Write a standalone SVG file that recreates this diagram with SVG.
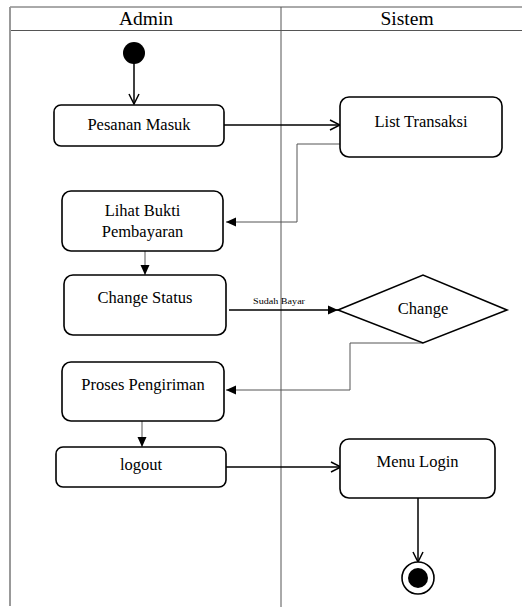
<svg xmlns="http://www.w3.org/2000/svg" width="522" height="607" viewBox="0 0 522 607">
<defs>
<style>
.lane{stroke:#555;stroke-width:1;fill:none}
.node{fill:#fff;stroke:#000;stroke-width:1.6}
.t{font-family:"Liberation Serif","Times New Roman",serif;font-size:16.5px;fill:#000;text-anchor:middle}
.h{font-family:"Liberation Serif","Times New Roman",serif;font-size:19.5px;fill:#000;text-anchor:middle}
.lbl{font-family:"Liberation Serif","Times New Roman",serif;font-size:9px;fill:#000}
.c{fill:none;stroke:#000;stroke-width:1.5}
.cg{fill:none;stroke:#555;stroke-width:1}
</style>
<marker id="open" viewBox="0 0 12 12" refX="11" refY="6" markerWidth="12" markerHeight="12" markerUnits="userSpaceOnUse" orient="auto">
<path d="M1,1 L11,6 L1,11" fill="none" stroke="#000" stroke-width="1.5"/>
</marker>
<marker id="fill" viewBox="0 0 10 10" refX="10" refY="5" markerWidth="10" markerHeight="10" markerUnits="userSpaceOnUse" orient="auto">
<path d="M0,0.5 L10,5 L0,9.5 Z" fill="#000"/>
</marker>
</defs>
<rect width="522" height="607" fill="#fff"/>
<g id="swimlanes">
<line class="lane" x1="10" y1="7" x2="522" y2="7"/>
<line class="lane" x1="10" y1="30.5" x2="522" y2="30.5" stroke-width="1.5"/>
<line x1="10" y1="7" x2="10" y2="606" stroke="#999" stroke-width="2"/>
<line class="lane" x1="281" y1="7" x2="281" y2="607"/>
<text class="h" x="146" y="25">Admin</text>
<text class="h" x="407" y="25">Sistem</text>
</g>
<g id="connectors">
<line class="c" x1="134" y1="63" x2="134" y2="104" marker-end="url(#open)"/>
<line class="c" x1="224" y1="125" x2="340" y2="125" marker-end="url(#open)"/>
<polyline class="cg" points="340,144 297,144 297,222 226,222" marker-end="url(#fill)"/>
<line class="cg" x1="145" y1="251" x2="145" y2="275" marker-end="url(#fill)"/>
<line class="c" x1="229" y1="310" x2="338" y2="310" stroke-width="1" marker-end="url(#fill)"/>
<text class="lbl" x="253" y="304" textLength="52" lengthAdjust="spacingAndGlyphs">Sudah Bayar</text>
<polyline class="cg" points="423,343 350,343 350,390 226,390" marker-end="url(#fill)"/>
<line class="cg" x1="142" y1="421" x2="142" y2="447" marker-end="url(#fill)"/>
<line class="c" x1="226" y1="467" x2="341" y2="467" marker-end="url(#open)"/>
<line class="c" x1="418" y1="498" x2="418" y2="562" marker-end="url(#open)"/>
</g>
<g id="start"><circle cx="134" cy="53" r="11" fill="#000"/></g>
<g id="pesanan-masuk"><rect class="node" x="54" y="105" width="170" height="41" rx="7"/><text class="t" x="139" y="130">Pesanan Masuk</text></g>
<g id="list-transaksi"><rect class="node" x="340" y="97" width="162" height="60" rx="9"/><text class="t" x="421" y="127">List Transaksi</text></g>
<g id="lihat-bukti"><rect class="node" x="62" y="191" width="161" height="60" rx="9"/><text class="t" x="142.5" y="216">Lihat Bukti</text><text class="t" x="142.5" y="237">Pembayaran</text></g>
<g id="change-status"><rect class="node" x="64" y="275" width="162" height="60" rx="9"/><text class="t" x="145" y="303">Change Status</text></g>
<g id="change"><polygon class="node" points="338,310 423,275 507,310 423,343"/><text class="t" x="423" y="314">Change</text></g>
<g id="proses-pengiriman"><rect class="node" x="62" y="362" width="162" height="59" rx="9"/><text class="t" x="143" y="390">Proses Pengiriman</text></g>
<g id="logout"><rect class="node" x="56" y="447" width="170" height="40" rx="7"/><text class="t" x="141" y="470">logout</text></g>
<g id="menu-login"><rect class="node" x="340" y="439" width="155" height="59" rx="9"/><text class="t" x="417.5" y="467">Menu Login</text></g>
<g id="end"><circle cx="418" cy="578" r="16" fill="#fff" stroke="#000" stroke-width="1.6"/><circle cx="418" cy="578" r="10" fill="#000"/></g>
</svg>
